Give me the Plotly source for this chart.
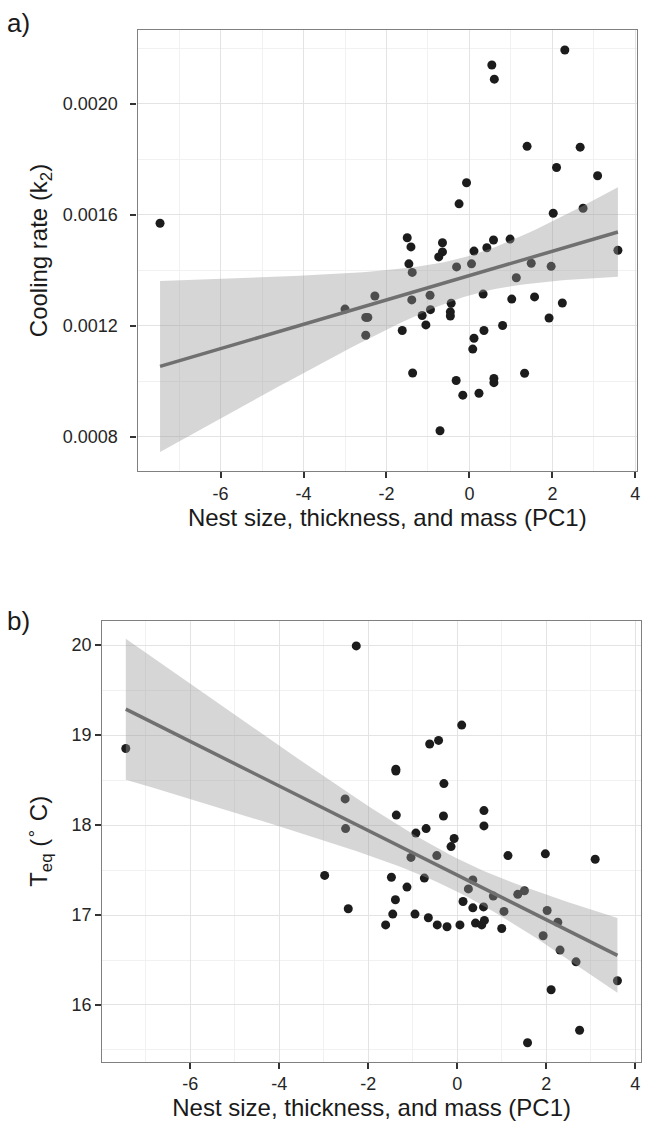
import numpy as np
import plotly.graph_objects as go

# ---------------- data ----------------
# Panel a: cooling rate k2 vs PC1
a_x = [-7.46, 2.30, 0.54, 0.60, 1.39, 2.67, 2.10, 3.09, -0.07, -0.25,
       2.02, 2.74, -1.50, -1.41, -0.65, 0.58, 0.98, 3.58, -0.65, -0.74,
       0.11, 0.42, -1.46, -1.38, -0.31, 0.05, 1.49, 1.97, 1.13, -3.00,
       -2.28, -2.50, -2.45, -2.50, -1.39, -0.95, -1.62, -1.37, -1.14, -0.94,
       -1.05, -0.44, -0.46, -0.46, 0.33, 1.02, 1.57, 2.24, 1.92, 0.80,
       0.35, 0.11, 0.08, -0.32, -0.16, 0.23, 0.59, 0.59, 1.33, -0.71]
a_y = [0.001569, 0.002193, 0.002139, 0.002088, 0.001846, 0.001843, 0.001770, 0.001740, 0.001715, 0.001639,
       0.001605, 0.001623, 0.001517, 0.001484, 0.001499, 0.001509, 0.001512, 0.001472, 0.001466, 0.001448,
       0.001469, 0.001481, 0.001423, 0.001392, 0.001412, 0.001423, 0.001425, 0.001414, 0.001373, 0.001260,
       0.001307, 0.001230, 0.001230, 0.001166, 0.001293, 0.001310, 0.001183, 0.001030, 0.001237, 0.001258,
       0.001203, 0.001281, 0.001250, 0.001235, 0.001314, 0.001296, 0.001304, 0.001282, 0.001228, 0.001201,
       0.001183, 0.001155, 0.001116, 0.001003, 0.000950, 0.000957, 0.001010, 0.000995, 0.001029, 0.000822]

# Panel b: equilibrium temperature vs PC1
b_x = [-7.45, -2.27, -2.52, 0.10, -0.42, -0.62, -1.38, -1.38, -0.30, -1.37,
       -0.31, 0.60, 0.60, -2.51, -0.93, -0.70, -0.07, -0.14, -1.04, -0.46,
       1.14, 1.98, 3.10, -1.48, -0.74, 0.35, 0.25, -1.13, 0.81, 1.36,
       1.51, -1.39, -2.45, 0.13, 0.35, 0.59, 1.05, 2.02, -1.45, -0.95,
       -0.65, -1.61, -0.45, -0.23, 0.06, 0.41, 0.55, 0.61, 1.00, 2.26,
       1.93, 2.31, 2.67, 3.60, 2.11, 2.75, 1.58, -2.98]
b_y = [18.85, 19.99, 18.29, 19.11, 18.94, 18.90, 18.62, 18.60, 18.46, 18.11,
       18.10, 18.16, 17.99, 17.96, 17.91, 17.96, 17.85, 17.76, 17.64, 17.66,
       17.66, 17.68, 17.62, 17.42, 17.41, 17.39, 17.29, 17.31, 17.21, 17.23,
       17.27, 17.17, 17.07, 17.15, 17.08, 17.09, 17.04, 17.05, 17.01, 17.01,
       16.97, 16.89, 16.89, 16.87, 16.89, 16.91, 16.89, 16.94, 16.85, 16.92,
       16.77, 16.61, 16.48, 16.27, 16.17, 15.72, 15.58, 17.44]

a_yticks = [0.0008, 0.0012, 0.0016, 0.0020]
a_yticktext = ["0.0008", "0.0012", "0.0016", "0.0020"]
b_yticks = [16, 17, 18, 19, 20]
b_yticktext = ["16", "17", "18", "19", "20"]
x_ticks = [-6, -4, -2, 0, 2, 4]
x_ticktext = ["-6", "-4", "-2", "0", "2", "4"]

x_title = "Nest size, thickness, and mass (PC1)"
a_ytitle = "Cooling rate (k<sub>2</sub>)"
b_ytitle = "T<sub>eq</sub> (<sup>\u2218</sup> C)"

T_CRIT = 2.0  # ~97.5% t quantile for n-2 ~ 56-58 df


def lm_fit(x, y, n=80):
    x = np.asarray(x, float)
    y = np.asarray(y, float)
    b1, b0 = np.polyfit(x, y, 1)
    resid = y - (b0 + b1 * x)
    s = np.sqrt(np.sum(resid ** 2) / (len(x) - 2))
    xg = np.linspace(x.min(), x.max(), n)
    fit = b0 + b1 * xg
    se = s * np.sqrt(1 / len(x) + (xg - x.mean()) ** 2 / np.sum((x - x.mean()) ** 2))
    return xg, fit, fit - T_CRIT * se, fit + T_CRIT * se


FONT = "Liberation Sans, Arial, sans-serif"
PT_COLOR = "#1c1c1c"
RIBBON = "rgba(153,153,153,0.4)"
LINE = "#707070"

fig = go.Figure()

for xs, ys, xa, ya in [(a_x, a_y, "x", "y"), (b_x, b_y, "x2", "y2")]:
    fig.add_trace(go.Scatter(x=xs, y=ys, mode="markers", xaxis=xa, yaxis=ya,
                             marker=dict(size=9, color=PT_COLOR, line=dict(width=0)),
                             showlegend=False, hoverinfo="skip"))
    xg, fit, lo, hi = lm_fit(xs, ys)
    fig.add_trace(go.Scatter(x=np.concatenate([xg, xg[::-1]]),
                             y=np.concatenate([hi, lo[::-1]]),
                             mode="lines", fill="toself", fillcolor=RIBBON,
                             line=dict(width=0), xaxis=xa, yaxis=ya,
                             showlegend=False, hoverinfo="skip"))
    fig.add_trace(go.Scatter(x=xg, y=fit, mode="lines", xaxis=xa, yaxis=ya,
                             line=dict(color=LINE, width=3.5),
                             showlegend=False, hoverinfo="skip"))

common_axis = dict(
    showgrid=True, gridcolor="#e3e3e3", gridwidth=1.4,
    zeroline=False, showline=True, mirror=True, linecolor="#808080", linewidth=1.3,
    ticks="outside", ticklen=6, tickwidth=1.6, tickcolor="#333333",
    tickfont=dict(family=FONT, size=18, color="#262626"),
)
minor_grid = dict(showgrid=True, gridcolor="#f1f1f1", gridwidth=1)
title_font = dict(family=FONT, size=24, color="#1a1a1a")

fig.update_layout(
    width=645, height=1124,
    margin=dict(l=0, r=0, t=0, b=0),
    paper_bgcolor="white", plot_bgcolor="white",
    font=dict(family=FONT, color="#1a1a1a"),
    xaxis=dict(common_axis, domain=[0.2144, 0.9922], anchor="y",
               range=[-8.0, 4.04], tickvals=x_ticks, ticktext=x_ticktext,
               minor=dict(minor_grid, dtick=1, tick0=1),
               title=dict(text=x_title, font=title_font, standoff=5)),
    yaxis=dict(common_axis, domain=[0.58096, 0.97331], anchor="x",
               range=[0.000677, 0.002265], tickvals=a_yticks, ticktext=a_yticktext,
               ticklabelstandoff=9,
               minor=dict(minor_grid, dtick=0.0004, tick0=0.0002),
               title=dict(text=a_ytitle, font=title_font, standoff=8)),
    xaxis2=dict(common_axis, domain=[0.15922, 0.99845], anchor="y2",
                range=[-7.98, 4.13], tickvals=x_ticks, ticktext=x_ticktext,
                minor=dict(minor_grid, dtick=1, tick0=1),
                title=dict(text=x_title, font=title_font, standoff=5)),
    yaxis2=dict(common_axis, domain=[0.05543, 0.44751], anchor="x2",
                range=[15.37, 20.267], tickvals=b_yticks, ticktext=b_yticktext,
                minor=dict(minor_grid, dtick=1, tick0=0.5),
                title=dict(text=b_ytitle, font=title_font, standoff=17)),
    annotations=[
        dict(text="a)", x=5 / 645, y=1 - 6 / 1124, xref="paper", yref="paper",
             xanchor="left", yanchor="top", showarrow=False,
             font=dict(family=FONT, size=26, color="#1a1a1a")),
        dict(text="b)", x=5 / 645, y=1 - 604 / 1124, xref="paper", yref="paper",
             xanchor="left", yanchor="top", showarrow=False,
             font=dict(family=FONT, size=26, color="#1a1a1a")),
    ],
)

fig.write_html("out.html")
